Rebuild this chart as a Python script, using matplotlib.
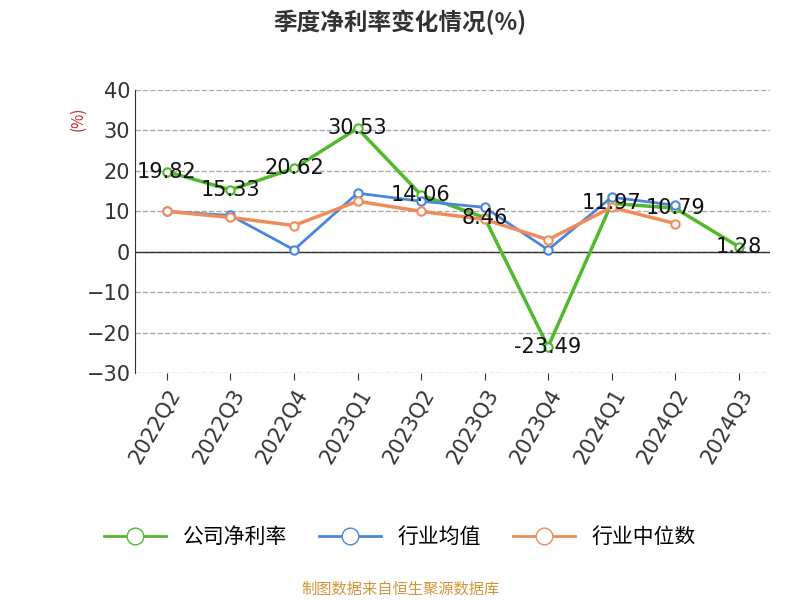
import matplotlib
matplotlib.use("Agg")
import matplotlib.pyplot as plt
from matplotlib.lines import Line2D
import numpy as np

plt.rcParams["font.family"] = ["Noto Sans CJK SC", "DejaVu Sans"]

quarters = ["2022Q2", "2022Q3", "2022Q4", "2023Q1", "2023Q2",
            "2023Q3", "2023Q4", "2024Q1", "2024Q2", "2024Q3"]
company = [19.82, 15.33, 20.62, 30.53, 14.06, 8.46, -23.49, 11.97, 10.79, 1.28]
industry_avg = [10.0, 9.0, 0.5, 14.5, 12.5, 11.0, 0.5, 13.5, 11.5, np.nan]
industry_median = [10.0, 8.5, 6.5, 12.5, 10.0, 8.0, 3.0, 11.0, 7.0, np.nan]

GREEN = "#52b82c"
BLUE = "#4a86e0"
ORANGE = "#f08c5a"

fig = plt.figure(figsize=(8, 6), dpi=100)
ax = fig.add_axes([0.169, 0.378, 0.794, 0.472])
x = np.arange(len(quarters))

ax.plot(x, company, color=GREEN, lw=2.5, marker="o", ms=6,
        mfc="white", mec=GREEN, mew=1.5, zorder=3)
ax.plot(x, industry_avg, color=BLUE, lw=2, marker="o", ms=6,
        mfc="white", mec=BLUE, mew=1.5, zorder=4)
ax.plot(x, industry_median, color=ORANGE, lw=2.5, marker="o", ms=6,
        mfc="white", mec=ORANGE, mew=1.5, zorder=5)

for xi, v in zip(x, company):
    ax.text(xi, v, f"{v:.2f}", ha="center", va="center", fontsize=15,
            color="#111111", zorder=6, family="DejaVu Sans")

ax.set_xlim(-0.5, 9.5)
ax.set_ylim(-30, 40)
ax.set_yticks(range(-30, 41, 10))
ax.set_xticks(x)
ax.set_xticklabels(quarters, rotation=60, ha="right", rotation_mode="anchor",
                   fontsize=15, color="#333333", family="DejaVu Sans")
ax.tick_params(axis="y", labelsize=15, colors="#333333", length=0)
for lab in ax.get_yticklabels():
    lab.set_family("DejaVu Sans")
ax.tick_params(axis="x", length=5, color="#333333")
ax.grid(axis="y", ls="--", color="#aaaaaa", lw=1)
for s in ["top", "right", "bottom"]:
    ax.spines[s].set_visible(False)
ax.spines["left"].set_color("#333333")
ax.axhline(0, color="#333333", lw=1, zorder=2)
ax.text(-0.09, 0.9, "(%)", transform=ax.transAxes, rotation=90,
        color="#cc2222", fontsize=11, ha="center", va="center")

fig.text(0.5, 0.962, "季度净利率变化情况(%)", ha="center", va="center",
         fontsize=17, fontweight="bold", color="#333333")

handles = [Line2D([], [], color=c, lw=2, marker="o", ms=12, mfc="white", mec=c)
           for c in (GREEN, BLUE, ORANGE)]
fig.legend(handles, ["公司净利率", "行业均值", "行业中位数"], loc="center",
           bbox_to_anchor=(0.5, 0.105), ncol=3, frameon=False, fontsize=15,
           handlelength=3, columnspacing=1.5)

fig.text(0.5, 0.018, "制图数据来自恒生聚源数据库", ha="center", va="center",
         fontsize=11, color="#d4953a")

fig.savefig("out.png", dpi=100, facecolor="white")
